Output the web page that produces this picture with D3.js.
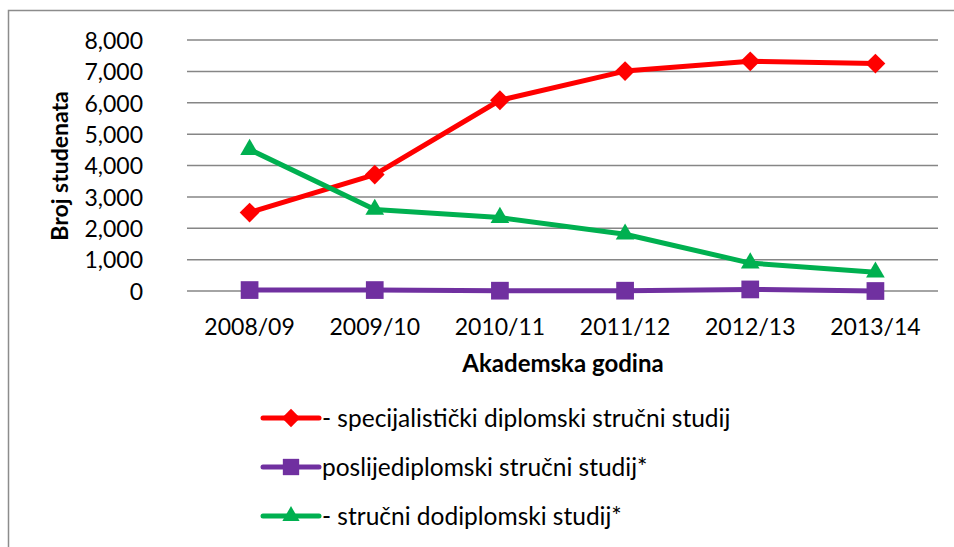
<!DOCTYPE html>
<html>
<head>
<meta charset="utf-8">
<script src="https://cdn.jsdelivr.net/npm/d3@7"></script>
<style>
  body { margin: 0; background: #fff; }
  text { font-family: Lato, "Open Sans", sans-serif; fill: #000; }
</style>
</head>
<body>
<svg width="954" height="547"></svg>
<script>
// Academic years (x axis categories)
const years = ["2008/09", "2009/10", "2010/11", "2011/12", "2012/13", "2013/14"];

// Series values
const specijalisticki = [2500, 3710, 6080, 7010, 7320, 7250];
const poslijediplomski = [30, 30, 10, 10, 50, 0];
const strucniDodiplomski = [4510, 2600, 2340, 1810, 890, 600];

const yTicks = [0, 1000, 2000, 3000, 4000, 5000, 6000, 7000, 8000];

const series = [
    { name: "- specijalistički diplomski stručni studij", values: specijalisticki, color: "#ff0000", symbol: "diamond" },
    { name: "poslijediplomski stručni studij*", values: poslijediplomski, color: "#7030a0", symbol: "square" },
    { name: "- stručni dodiplomski studij*", values: strucniDodiplomski, color: "#00b050", symbol: "triangle" }
];

const svg = d3.select("svg");

// outer chart frame (runs off the right and bottom of the picture)
svg.append("rect")
    .attr("x", 8.5).attr("y", 10.5)
    .attr("width", 960).attr("height", 560)
    .attr("fill", "none")
    .attr("stroke", "#8c8c8c")
    .attr("stroke-width", 1.5);

const plot = { left: 187, right: 938, top: 40, bottom: 291 };

const x = d3.scaleBand()
    .domain(years)
    .range([plot.left, plot.right]);

const y = d3.scaleLinear()
    .domain([0, 8000])
    .range([plot.bottom, plot.top]);

// gridlines
svg.append("g")
    .selectAll("line")
    .data(yTicks)
    .join("line")
    .attr("x1", plot.left).attr("x2", plot.right)
    .attr("y1", d => y(d)).attr("y2", d => y(d))
    .attr("stroke", "#868686")
    .attr("stroke-width", 1.5);

// y axis labels
const yAxis = svg.append("g")
    .attr("transform", `translate(${plot.left - 44},0)`)
    .call(d3.axisLeft(y).tickValues(yTicks).tickSize(0).tickPadding(0).tickFormat(d3.format(",")));
yAxis.select(".domain").remove();
yAxis.selectAll("text")
    .style("font-size", "23px")
    .attr("dy", "0.36em");

// x axis labels
const xAxis = svg.append("g")
    .attr("transform", `translate(0,${plot.bottom})`)
    .call(d3.axisBottom(x).tickSize(0).tickPadding(28));
xAxis.select(".domain").remove();
xAxis.selectAll("text")
    .style("font-size", "23px");

// axis titles
svg.append("text")
    .attr("transform", "translate(68,166) rotate(-90)")
    .attr("text-anchor", "middle")
    .style("font-size", "23px")
    .style("font-weight", "bold")
    .text("Broj studenata");

svg.append("text")
    .attr("x", 563).attr("y", 372)
    .attr("text-anchor", "middle")
    .style("font-size", "24px")
    .style("font-weight", "bold")
    .text("Akademska godina");

const symbolType = {
    diamond: d3.symbolDiamond2,
    square: d3.symbolSquare2,
    triangle: d3.symbolTriangle2
};
const symbolSize = { diamond: 250, square: 400, triangle: 250 };

const line = d3.line()
    .x((d, i) => x(years[i]) + x.bandwidth() / 2)
    .y(d => y(d));

series.forEach(s => {
    const g = svg.append("g");
    g.append("path")
        .datum(s.values)
        .attr("d", line)
        .attr("fill", "none")
        .attr("stroke", s.color)
        .attr("stroke-width", 5)
        .attr("stroke-linejoin", "round");
    g.selectAll("path.pt")
        .data(s.values)
        .join("path")
        .attr("class", "pt")
        .attr("transform", (d, i) => `translate(${x(years[i]) + x.bandwidth() / 2},${y(d)})`)
        .attr("d", d3.symbol(symbolType[s.symbol], symbolSize[s.symbol]))
        .attr("fill", s.color);
});

// legend
const legend = svg.append("g")
    .selectAll("g")
    .data(series)
    .join("g")
    .attr("transform", (d, i) => `translate(263,${418 + i * 49})`);

legend.append("line")
    .attr("x1", 0).attr("x2", 56)
    .attr("stroke", d => d.color)
    .attr("stroke-width", 5)
    .attr("stroke-linecap", "round");

legend.append("path")
    .attr("transform", "translate(28,0)")
    .attr("d", d => d3.symbol(symbolType[d.symbol], symbolSize[d.symbol] * 0.85)())
    .attr("fill", d => d.color);

legend.append("text")
    .attr("x", 59)
    .attr("dy", "0.36em")
    .style("font-size", "24.5px")
    .text(d => d.name);
</script>
</body>
</html>
